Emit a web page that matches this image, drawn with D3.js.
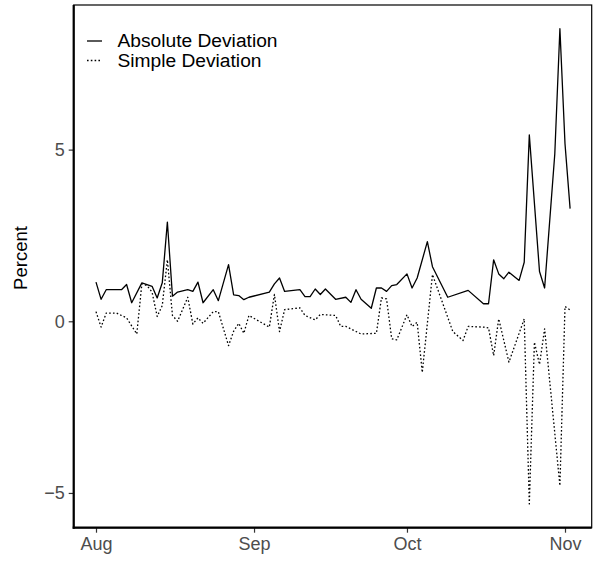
<!DOCTYPE html>
<html>
<head>
<meta charset="utf-8">
<script src="https://cdn.jsdelivr.net/npm/d3@7"></script>
<style>
  html, body { margin: 0; padding: 0; background: #fff; }
  svg text { font-family: "Liberation Sans", Arial, Helvetica, sans-serif; }
</style>
</head>
<body>
<svg id="chart" width="593" height="562"></svg>
<script>
// ---- data ----
const absDates = ["2008-08-01","2008-08-02","2008-08-03","2008-08-06","2008-08-07","2008-08-08","2008-08-10","2008-08-12","2008-08-13","2008-08-14","2008-08-15","2008-08-16","2008-08-17","2008-08-19","2008-08-20","2008-08-21","2008-08-22","2008-08-24","2008-08-25","2008-08-27","2008-08-28","2008-08-29","2008-08-30","2008-08-31","2008-09-04","2008-09-05","2008-09-06","2008-09-07","2008-09-10","2008-09-11","2008-09-12","2008-09-13","2008-09-14","2008-09-15","2008-09-17","2008-09-19","2008-09-20","2008-09-21","2008-09-22","2008-09-24","2008-09-25","2008-09-26","2008-09-27","2008-09-28","2008-09-29","2008-10-01","2008-10-02","2008-10-03","2008-10-05","2008-10-06","2008-10-09","2008-10-13","2008-10-16","2008-10-17","2008-10-18","2008-10-19","2008-10-20","2008-10-21","2008-10-23","2008-10-24","2008-10-25","2008-10-27","2008-10-28","2008-10-30","2008-10-31","2008-11-01","2008-11-02"];
const absValues = [1.14,0.64,0.92,0.92,1.07,0.54,1.12,1.02,0.68,1.12,2.89,0.73,0.85,0.92,0.87,1.14,0.54,0.92,0.60,1.65,0.77,0.75,0.63,0.70,0.85,1.09,1.26,0.87,0.92,0.72,0.72,0.94,0.78,0.94,0.64,0.70,0.55,0.92,0.64,0.38,0.97,0.97,0.87,1.04,1.07,1.38,0.97,1.26,2.32,1.59,0.70,0.90,0.51,0.51,1.79,1.38,1.24,1.43,1.19,1.72,5.43,1.45,0.97,4.88,8.52,5.17,3.28];

const simpDates = ["2008-08-01","2008-08-02","2008-08-03","2008-08-05","2008-08-07","2008-08-09","2008-08-10","2008-08-11","2008-08-12","2008-08-13","2008-08-14","2008-08-15","2008-08-16","2008-08-17","2008-08-19","2008-08-20","2008-08-21","2008-08-22","2008-08-24","2008-08-25","2008-08-27","2008-08-28","2008-08-29","2008-08-30","2008-08-31","2008-09-04","2008-09-05","2008-09-06","2008-09-07","2008-09-10","2008-09-11","2008-09-13","2008-09-14","2008-09-17","2008-09-18","2008-09-19","2008-09-22","2008-09-25","2008-09-26","2008-09-27","2008-09-28","2008-09-29","2008-10-01","2008-10-02","2008-10-03","2008-10-04","2008-10-06","2008-10-10","2008-10-12","2008-10-13","2008-10-16","2008-10-17","2008-10-18","2008-10-19","2008-10-21","2008-10-24","2008-10-25","2008-10-26","2008-10-27","2008-10-28","2008-10-31","2008-11-01","2008-11-02"];
const simpValues = [0.28,-0.17,0.24,0.24,0.10,-0.37,1.09,1.04,0.85,0.14,0.46,1.79,0.17,0.00,0.70,-0.08,0.10,-0.06,0.28,0.28,-0.71,-0.29,-0.06,-0.35,0.17,-0.17,0.78,-0.30,0.34,0.39,0.17,0.04,0.20,0.17,-0.15,-0.15,-0.37,-0.35,0.68,0.65,-0.51,-0.54,0.19,-0.15,-0.03,-1.49,1.36,-0.30,-0.56,-0.15,-0.17,-0.19,-1.00,0.07,-1.19,0.07,-5.32,-0.61,-1.26,-0.22,-4.79,0.43,0.33];

const seriesNames = ["Absolute Deviation", "Simple Deviation"];
const yTicks = [-5, 0, 5];
const xTickDates = ["2008-08-01","2008-09-01","2008-10-01","2008-11-01"];
const xTickLabels = ["Aug","Sep","Oct","Nov"];
const yTitle = "Percent";

// ---- layout ----
const W = 593, H = 562;
const panel = { left: 73.7, right: 591.7, top: 5, bottom: 527.7 };
const padLeftPx = 22.3, padRightPx = 21.6;

const parse = d3.timeParse("%Y-%m-%d");
const absData = absDates.map((d, i) => ({ date: parse(d), value: absValues[i] }));
const simpData = simpDates.map((d, i) => ({ date: parse(d), value: simpValues[i] }));
const allData = absData.concat(simpData);

const x = d3.scaleTime()
  .domain(d3.extent(allData, d => d.date))
  .range([panel.left + padLeftPx, panel.right - padRightPx]);

const yExt = d3.extent(allData, d => d.value);
const yPad = (yExt[1] - yExt[0]) * 0.05;
const y = d3.scaleLinear()
  .domain([yExt[0] - yPad, yExt[1] + yPad])
  .range([panel.bottom, panel.top]);

const svg = d3.select("#chart");
svg.append("rect").attr("width", W).attr("height", H).attr("fill", "#fff");

// panel border (thin top/right)
svg.append("rect")
  .attr("x", panel.left).attr("y", panel.top)
  .attr("width", panel.right - panel.left)
  .attr("height", panel.bottom - panel.top)
  .attr("fill", "none").attr("stroke", "#000").attr("stroke-width", 1.2);

// lines
const line = d3.line().x(d => x(d.date)).y(d => y(d.value));
svg.append("path").datum(absData)
  .attr("d", line).attr("fill", "none")
  .attr("stroke", "#000").attr("stroke-width", 1.3)
  .attr("stroke-linejoin", "round");
svg.append("path").datum(simpData)
  .attr("d", line).attr("fill", "none")
  .attr("stroke", "#000").attr("stroke-width", 1.3)
  .attr("stroke-dasharray", "1.6,2.2")
  .attr("stroke-linejoin", "round");

// axes
const yAxis = d3.axisLeft(y).tickValues(yTicks).tickSize(5).tickPadding(4)
  .tickFormat(d => d < 0 ? "\u2212" + Math.abs(d) : String(d));
const gy = svg.append("g").attr("transform", `translate(${panel.left},0)`).call(yAxis);
gy.select(".domain").remove();
gy.selectAll(".tick line").attr("stroke", "#333").attr("stroke-width", 1.2);
gy.selectAll(".tick text").attr("fill", "#4d4d4d").style("font-size", "18px");

const xAxis = d3.axisBottom(x).tickValues(xTickDates.map(parse)).tickSize(5).tickPadding(5)
  .tickFormat((d, i) => xTickLabels[i]);
const gx = svg.append("g").attr("transform", `translate(0,${panel.bottom})`).call(xAxis);
gx.select(".domain").remove();
gx.selectAll(".tick line").attr("stroke", "#333").attr("stroke-width", 1.2);
gx.selectAll(".tick text").attr("fill", "#4d4d4d").style("font-size", "18px");

// thick axis lines (left / bottom)
svg.append("line")
  .attr("x1", panel.left).attr("x2", panel.left)
  .attr("y1", panel.top).attr("y2", panel.bottom + 1)
  .attr("stroke", "#000").attr("stroke-width", 2.2);
svg.append("line")
  .attr("x1", panel.left - 1).attr("x2", panel.right)
  .attr("y1", panel.bottom).attr("y2", panel.bottom)
  .attr("stroke", "#000").attr("stroke-width", 2.2);

// y title
svg.append("text")
  .attr("transform", `translate(27,258) rotate(-90)`)
  .attr("text-anchor", "middle")
  .style("font-size", "18.5px").attr("fill", "#000")
  .text(yTitle);

// legend
const legend = svg.append("g");
const legendRows = [
  { name: seriesNames[0], dash: null, ly: 41, ty: 47 },
  { name: seriesNames[1], dash: "1.6,2.2", ly: 60.5, ty: 66.5 }
];
legendRows.forEach(r => {
  const l = legend.append("line")
    .attr("x1", 87).attr("x2", 102)
    .attr("y1", r.ly).attr("y2", r.ly)
    .attr("stroke", "#000").attr("stroke-width", 1.3);
  if (r.dash) l.attr("stroke-dasharray", r.dash);
  legend.append("text")
    .attr("x", 117.5).attr("y", r.ty)
    .style("font-size", "19.2px").attr("fill", "#000")
    .text(r.name);
});
</script>
</body>
</html>
